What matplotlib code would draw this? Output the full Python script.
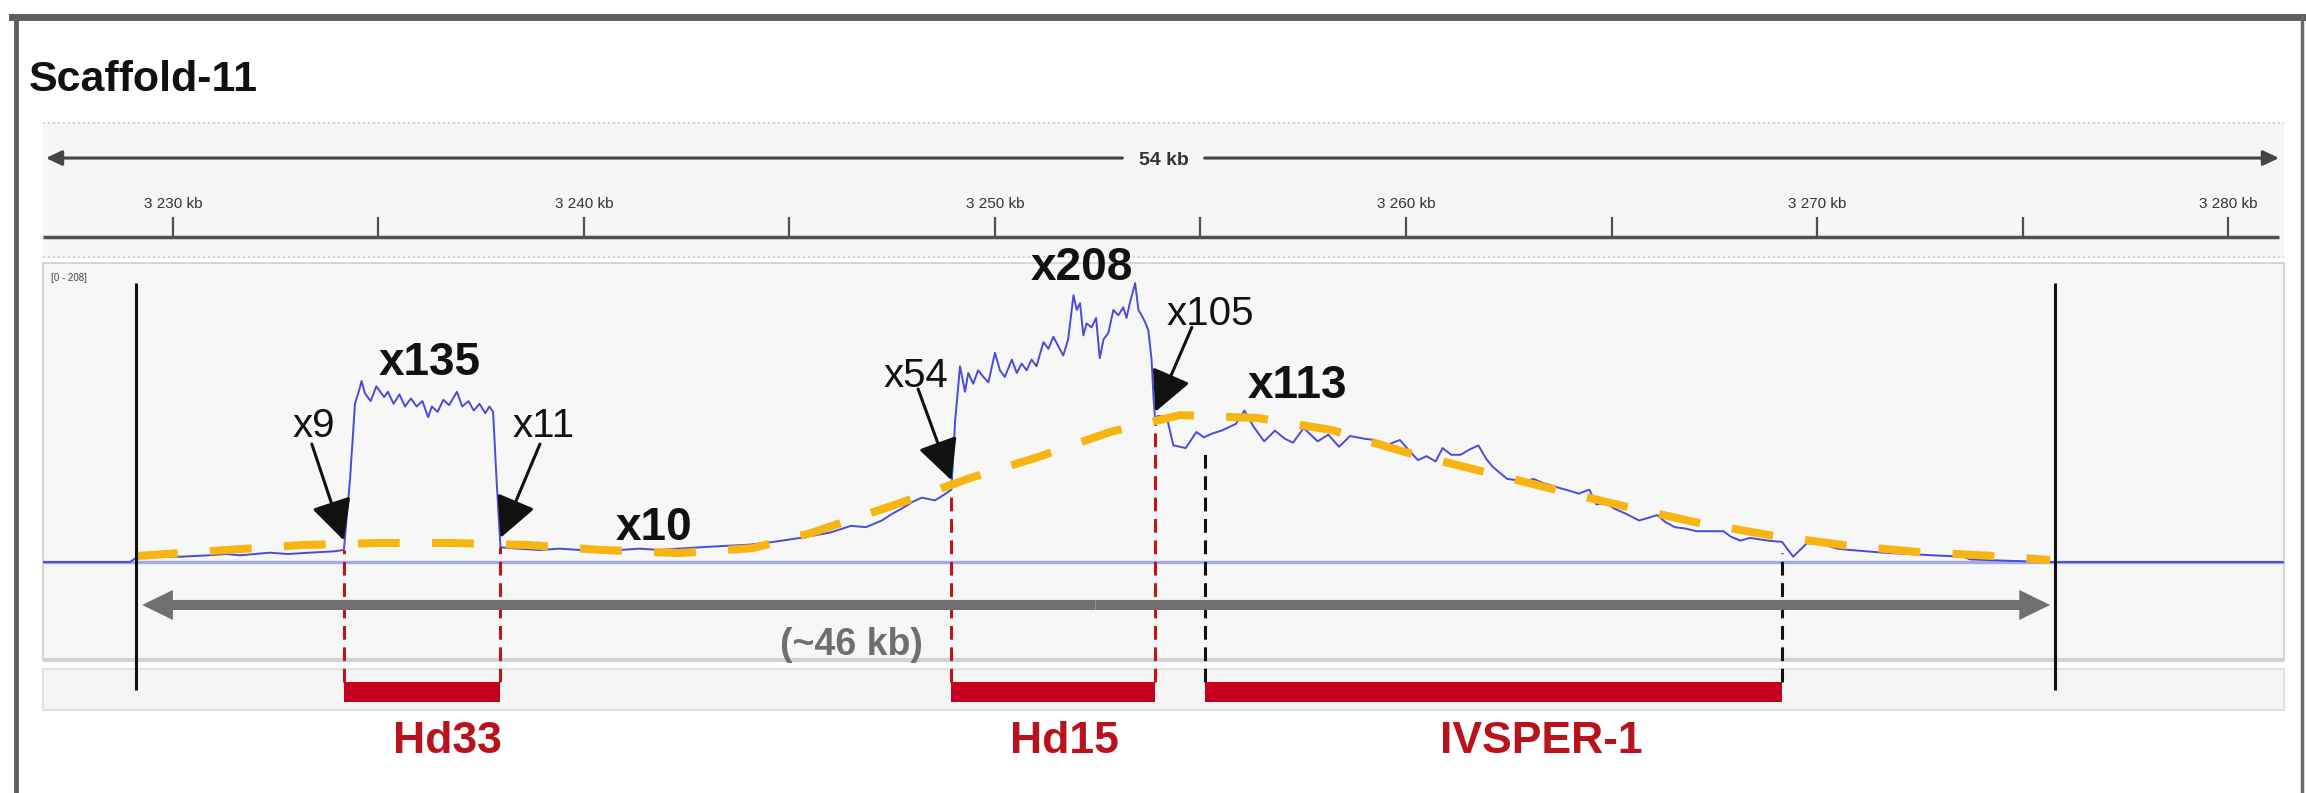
import numpy as np
import matplotlib.pyplot as plt
from matplotlib.patches import Rectangle
from matplotlib.lines import Line2D

plt.rcParams['font.family'] = ['Liberation Sans', 'DejaVu Sans']

# browser window on scaffold 11 (kb)
view_start, view_end = 3226.84, 3281.36
window = [3229.10, 3275.79]
cov_max = 208

features = ['Hd33', 'Hd15', 'IVSPER-1']
feat_start = [3234.16, 3248.94, 3255.12]
feat_end = [3237.97, 3253.90, 3269.15]

# read depth (fold coverage) along the window
cov_pos = [3226.84, 3228.95, 3229.10, 3229.60, 3230.20, 3230.85, 3231.30, 3231.63,
           3232.36, 3232.80, 3233.33, 3233.92, 3234.16, 3234.31, 3234.43, 3234.53,
           3234.59, 3234.67, 3234.81, 3234.95, 3235.14, 3235.23, 3235.37, 3235.51,
           3235.65, 3235.79, 3235.93, 3236.07, 3236.21, 3236.30, 3236.44, 3236.58,
           3236.72, 3236.91, 3237.04, 3237.19, 3237.32, 3237.46, 3237.60, 3237.70,
           3237.79, 3237.88, 3237.97, 3238.40, 3238.93, 3239.40, 3239.90, 3240.40,
           3240.88, 3241.35, 3241.85, 3242.30, 3242.82, 3243.40, 3244.04, 3244.60,
           3245.26, 3245.99, 3246.50, 3246.86, 3247.25, 3247.50, 3247.74, 3248.00,
           3248.22, 3248.54, 3248.75, 3248.94, 3249.03, 3249.15, 3249.27, 3249.35,
           3249.47, 3249.59, 3249.72, 3249.84, 3250.00, 3250.12, 3250.24, 3250.41,
           3250.53, 3250.65, 3250.77, 3250.89, 3251.01, 3251.18, 3251.30, 3251.42,
           3251.54, 3251.66, 3251.78, 3251.91, 3251.99, 3252.07, 3252.15, 3252.23,
           3252.35, 3252.46, 3252.55, 3252.64, 3252.76, 3252.88, 3253.00, 3253.12,
           3253.20, 3253.28, 3253.41, 3253.49, 3253.57, 3253.65, 3253.73, 3253.81,
           3253.86, 3253.90, 3253.96, 3254.18, 3254.34, 3254.64, 3254.90, 3255.08,
           3255.30, 3255.51, 3255.86, 3256.07, 3256.29, 3256.55, 3256.81, 3257.05,
           3257.25, 3257.51, 3257.85, 3258.11, 3258.37, 3258.64, 3258.98, 3259.24,
           3259.42, 3259.85, 3260.05, 3260.29, 3260.50, 3260.72, 3260.89, 3261.10,
           3261.33, 3261.55, 3261.76, 3261.95, 3262.11, 3262.46, 3262.70, 3262.89,
           3263.10, 3263.33, 3263.55, 3263.76, 3264.00, 3264.20, 3264.46, 3264.63,
           3264.85, 3265.06, 3265.35, 3265.67, 3265.90, 3266.11, 3266.30, 3266.54,
           3266.80, 3267.06, 3267.40, 3267.72, 3267.90, 3268.13, 3268.37, 3268.80,
           3269.15, 3269.42, 3269.75, 3270.15, 3270.50, 3270.80, 3271.20, 3271.61,
           3272.20, 3272.83, 3273.56, 3273.72, 3274.60, 3275.79, 3281.36]
cov_val = [0, 0, 3, 4, 4, 5, 6, 5,
           7, 6, 7, 8, 9, 62, 118, 128,
           135, 126, 120, 131, 123, 127, 118, 125,
           116, 122, 116, 120, 108, 116, 112, 121,
           117, 127, 116, 120, 113, 118, 111, 116,
           112, 58, 11, 10, 9, 10, 9, 10,
           9, 10, 9, 10, 11, 12, 13, 15,
           18, 22, 27, 26, 31, 36, 40, 45,
           48, 46, 50, 54, 105, 146, 127, 141,
           133, 143, 138, 134, 156, 143, 138, 151,
           141, 148, 143, 151, 146, 164, 159, 168,
           161, 154, 166, 199, 188, 193, 169, 178,
           175, 182, 152, 166, 171, 188, 184, 190,
           182, 193, 208, 188, 184, 179, 173, 151,
           121, 105, 109, 108, 87, 85, 97, 93,
           96, 98, 103, 113, 101, 90, 98, 92,
           89, 100, 90, 95, 86, 94, 92, 91,
           86, 91, 84, 76, 79, 75, 85, 80,
           80, 84, 87, 77, 71, 62, 61, 60,
           62, 59, 57, 55, 53, 51, 54, 43,
           44, 40, 36, 31, 33, 35, 30, 26,
           25, 23, 23, 23, 19, 16, 18, 16,
           15, 4, 14, 13, 10, 9, 8, 7,
           6, 5, 4, 2, 1, 0, 0]

# background depth trend (yellow dashed)
trend_pos = [3229.10, 3231.31, 3233.14, 3234.94, 3236.81, 3238.64, 3240.44, 3242.31,
             3244.11, 3245.52, 3247.69, 3249.39, 3251.05, 3252.80, 3254.50, 3256.40,
             3258.20, 3259.98, 3261.73, 3263.50, 3265.28, 3267.03, 3268.86, 3270.63,
             3272.46, 3274.33, 3275.67]
trend_val = [4.5, 9, 12.7, 14.2, 14.2, 12.7, 9.0, 6.7,
             10.4, 21.6, 44, 62.6, 78.3, 97, 109.6, 107.4,
             98.4, 82, 68.6, 55, 41.8, 29.8, 20, 12.7,
             7.5, 4.5, 1.5]

# depth at the element junctions and peak depth of each block
junction_pos = [3234.16, 3237.97, 3248.94, 3253.90]
junction_cov = [9, 11, 54, 105]
peak_cov = [135, 208, 113, 10]

# label placement (kb, depth)
peak_xy = [(3236.25, 139.4), (3252.12, 210.3), (3257.35, 122.3), (3241.70, 16.4)]
junction_xy = [(3233.43, 93.2), (3239.03, 93.2), (3248.08, 130.5), (3255.23, 176.7)]
junction_tail = [(3233.38, 88.0), (3238.93, 88.0), (3248.13, 129.0), (3254.79, 175.0)]
feature_label_x = [3236.67, 3251.68, 3263.28]

W, H = 2306, 793
fig = plt.figure(figsize=(W / 100, H / 100), dpi=100)


def rect(x0, y0, x1, y1):
    return [x0 / W, 1 - y1 / H, (x1 - x0) / W, (y1 - y0) / H]


# ---- ruler ----
rax = fig.add_axes(rect(43, 122, 2284, 258))
rax.set_xlim(view_start, view_end)
rax.set_ylim(0, 1)
rax.set_facecolor('#f6f6f6')
for s in rax.spines.values():
    s.set_visible(False)
rax.set_xticks([])
rax.set_yticks([])
rax.axhline(0.995, color='#c4c4c4', lw=1.2, ls=(0, (1, 2)))
rax.axhline(0.01, color='#c4c4c4', lw=1.2, ls=(0, (1, 2)))

mid = (view_start + view_end) / 2
head = dict(arrowstyle='-|>,head_length=0.95,head_width=0.45', mutation_scale=10,
            color='#454545', lw=2.2, shrinkA=0, shrinkB=0)
rax.annotate('', xy=(view_start + 0.07, 0.735), xytext=(mid - 1.0, 0.735), arrowprops=head)
rax.annotate('', xy=(3281.24, 0.735), xytext=(mid + 1.0, 0.735), arrowprops=head)
rax.text(mid, 0.684, f'{int(view_end - view_start)} kb', ha='center', va='baseline',
         fontsize=14, fontweight='bold', color='#333333')

rax.hlines(0.154, view_start, 3281.24, color='#505050', lw=2.5)
ticks = list(range(3230, 3285, 5))
rax.vlines(ticks, 0.154, 0.301, color='#505050', lw=1.6)
for t in ticks[::2]:
    rax.text(t, 0.368, f'{t // 1000} {t % 1000:03d} kb', ha='center', va='baseline',
             fontsize=11, color='#333333')

# ---- coverage + feature track ----
ax = fig.add_axes(rect(43, 263, 2284, 760))
ax.set_xlim(view_start, view_end)
ax.set_ylim(-147.6, 223.0)
ax.axis('off')

ax.add_patch(Rectangle((view_start, -73.1), view_end - view_start, 296.1,
                       fc='#f7f7f7', ec='#d6d6d6', lw=1.5, zorder=0, clip_on=False))
ax.add_patch(Rectangle((view_start, -110.4), view_end - view_start, 30.6,
                       fc='#f5f5f5', ec='#e2e2e2', lw=1.5, zorder=0, clip_on=False))
ax.axhline(-73.1, color='#d2d2d2', lw=3, zorder=1)

ax.text(view_start + 0.19, 211.8, f'[0 - {cov_max}]', fontsize=7, va='center',
        color='#444444')

ax.axhline(0, color='#a3a9ef', lw=2.4, zorder=2)
ax.plot(cov_pos, cov_val, color='#4b4bd9', lw=1.4, zorder=3)
ax.plot(trend_pos, trend_val, color='#f6b511', lw=5.8, dashes=(5.2, 4.0),
        dash_capstyle='butt', zorder=4)

# window limits
ax.vlines(window, -95.4, cov_max, colors='#111111', lw=2.2, zorder=5, clip_on=False)

# element bars and their boundaries
edge_colors = ['#c0141c', '#c0141c', '#111111']
for name, s, e, c, lx in zip(features, feat_start, feat_end, edge_colors, feature_label_x):
    for p in (s, e):
        top = np.interp(p, cov_pos, cov_val)
        if c == '#111111':
            top -= 8
        ax.vlines(p, -89.5, top, colors=c, lw=2.2, linestyles=(0, (4.5, 2.5)), zorder=3.5)
    ax.add_patch(Rectangle((s, -104.4), e - s, 14.9, fc='#c8001f', ec='none', zorder=5))
    ax.text(lx, -142.4, name, ha='center', va='baseline', fontsize=32,
            fontweight='bold', color='#b8121c')

# window size arrow
span = window[1] - window[0]
wmid = sum(window) / 2
for end in (window[0] + 0.15, window[1] - 0.12):
    ax.arrow(wmid, -32, end - wmid, 0, width=7.5, head_width=22.4, head_length=0.75,
             length_includes_head=True, color='#707070', lw=0, zorder=4)
ax.text(3246.50, -69.4, f'(~{int(span)} kb)', ha='center', va='baseline',
        fontsize=27, fontweight='bold', color='#6f6f6f', zorder=6)

# junction depths
for p, c, (tx, ty), tail in zip(junction_pos, junction_cov, junction_xy, junction_tail):
    ax.annotate('', xy=(p, c + 7), xytext=tail,
                arrowprops=dict(arrowstyle='-|>,head_length=1.2,head_width=0.6',
                                mutation_scale=21, color='#111111', lw=2.2,
                                shrinkA=0, shrinkB=0), zorder=6)
    ax.text(tx, ty, f'x{c}', ha='center', va='baseline', fontsize=29, color='#111111')

for c, (tx, ty) in zip(peak_cov, peak_xy):
    ax.text(tx, ty, f'x{c}', ha='center', va='baseline', fontsize=33,
            fontweight='bold', color='#111111', zorder=6, clip_on=False)

# outer frame and title
fig.add_artist(Line2D([12 / W, 1], [1 - 17 / H, 1 - 17 / H], color='#5f5f5f', lw=5))
fig.add_artist(Line2D([16 / W, 16 / W], [0, 1 - 17 / H], color='#5f5f5f', lw=3.5))
fig.add_artist(Line2D([2302 / W, 2302 / W], [0, 1 - 17 / H], color='#6a6a6a', lw=2.5))
fig.text(29 / W, 1 - 91 / H, 'Scaffold-11', fontsize=31, fontweight='bold',
         va='baseline', color='#111111')

fig.savefig('out.png', dpi=100)
